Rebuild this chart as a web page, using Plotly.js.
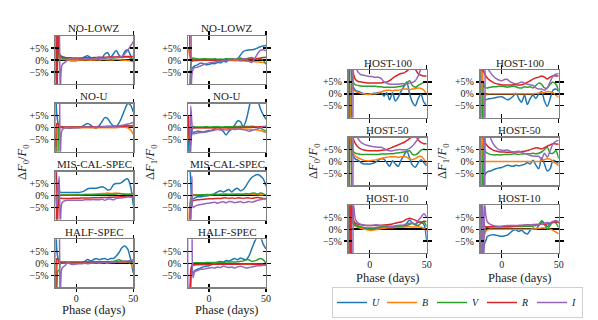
<!DOCTYPE html>
<html><head><meta charset="utf-8">
<script src="https://cdn.plot.ly/plotly-3.0.1.min.js"></script>
<style>html,body{margin:0;padding:0;background:#fff}#c{width:598px;height:320px}</style>
</head><body><div id="c"></div>
<script>
const phase = [-18,-17,-16,-15,-14,-12.5,-10,-7.5,-5,-2.5,0,2.5,5,7.5,10,12.5,15,17.5,20,22.5,25,27.5,30,32.5,35,37.5,40,42.5,45,47.5,50];
const bands = ['U','B','V','R','I'];
const yTickVals = [-5,0,5];
const yTickText = ['\u22125%','0%','+5%'];
const xTickVals = [0,50];
const xTickText = ['0','50'];
const panelTitles = ['NO-LOWZ','NO-LOWZ','NO-U','NO-U','MIS-CAL-SPEC','MIS-CAL-SPEC','HALF-SPEC','HALF-SPEC','HOST-100','HOST-100','HOST-50','HOST-50','HOST-10','HOST-10'];

// each panel: [U, B, V, R, I] in percent
const noLowzF0 = [
 [20,12,6,3,2,1.5,1.0,0.3,-0.2,-0.3,-0.3,0.2,0.6,1.4,1.8,1.0,0.3,0.6,1.3,0.8,2.5,3.0,1.0,2.5,4.0,2.0,1.4,3.5,4.3,2.0,-0.8],
 [-8,-3,2,1,0.5,0.3,0.2,0,-0.3,-0.3,-0.2,0,0,0.1,0,-0.1,0,0.1,0,0.2,0.2,0.1,0,0.1,0.3,0.2,0,-0.1,-0.2,-0.4,-0.8],
 [-25,-10,3,1.5,1,0.8,0.5,0.4,0.3,0.3,0.3,0.4,0.5,0.6,0.6,0.5,0.5,0.7,0.8,0.7,0.7,0.9,1.0,0.8,1.0,1.1,1.0,1.2,1.2,0.8,-0.2],
 [30,-30,25,3,1.5,1.2,1.0,0.9,0.9,0.8,0.8,0.8,0.8,0.9,0.9,0.9,1.0,1.0,1.0,1.1,1.1,1.2,1.2,1.3,1.3,1.4,1.4,1.5,1.5,1.5,1.5],
 [-20,30,30,20,-15,-2,-1,0,0.3,0.3,0.2,0.2,0.3,0.5,0.6,0.5,0.4,0.6,0.8,0.7,0.8,1.0,0.8,1.0,1.2,1.0,1.5,2.5,4.0,5.8,7.7]
];
const noLowzF1 = [
 [-30,-20,-6,-3.5,-3,-2.5,-2.0,-1.3,-1.5,-2.0,-1.8,-1.5,-1.5,-1.0,-1.2,-0.5,-0.8,0.2,0.5,0.2,0.5,2.0,3.5,4.0,4.2,4.3,4.5,5.0,5.5,5.8,6.0],
 [5,2,0.5,0,0,0,0,0,0,0,0,0,0,0,0,-0.1,-0.1,-0.2,-0.2,-0.3,-0.3,-0.4,-0.4,-0.5,-0.5,-0.6,-0.7,-0.8,-0.9,-1.0,-1.2],
 [-30,-20,-2,0.5,0.8,0.6,0.5,0.4,0.5,0.5,0.4,0.4,0.5,0.3,0.4,0.3,0.5,0.5,0.4,0.3,0.6,0.8,0.5,0.5,0.8,1.0,0.5,0.2,0.5,0.0,-1.8],
 [30,20,0,-0.5,-0.3,-0.2,-0.2,0,0,0,0,0,0,0,0,0,0,0.1,0.1,0.2,0.2,0.2,0.3,0.3,0.4,0.4,0.5,0.6,0.8,1.0,1.2],
 [30,30,-30,-6,-4,-3.2,-3.0,-2.5,-2.0,-1.5,-1.2,-1.0,-0.8,-0.5,-0.5,-0.3,-0.2,0,0.2,0.3,0.2,-0.2,0.5,0.3,-0.5,-1.0,0.5,2.5,4.0,4.3,3.8]
];
const noUF0 = [
 [15,5,2,0.5,0.3,0.2,0,-0.2,-0.2,0,0,0.2,0.5,1.2,1.8,1.2,0.1,-0.2,0.8,2.5,4.2,3.8,2.0,0.8,0.5,2.0,4.5,7.5,10.0,9.5,6.5],
 [-15,-3,1,0.3,0,0,0,0,0,0,0,0,0,0,0,0,0,0,0,0,0,0,0,0,0,0.1,0.2,0.2,0,-0.8,-2.7],
 [-5,-30,-10,0.5,0.5,0.3,0.2,0.2,0.3,0.3,0.2,0.3,0.3,0.3,0.4,0.4,0.4,0.4,0.5,0.5,0.5,0.5,0.5,0.6,0.6,0.6,0.7,0.7,0.8,0.8,0.9],
 [-8,1.8,1.5,0.3,0.2,0.3,0.3,0.3,0.3,0.3,0.3,0.3,0.3,0.3,0.3,0.4,0.4,0.4,0.4,0.4,0.4,0.5,0.5,0.5,0.5,0.6,0.6,0.6,0.7,0.7,0.8],
 [-20,30,30,25,-20,-1,0,0.2,0,0,0,0,0.2,0.3,0.2,0.1,0.2,0.3,0.3,0.3,0.4,0.5,0.5,0.6,0.7,0.8,1.0,1.2,1.5,1.8,2.2]
];
const noUF1 = [
 [5,-30,-8,-2.5,-2.0,-1.8,-1.5,-1.6,-1.8,-1.5,-1.2,-1.0,-0.5,0.5,-0.5,-1.5,-3.0,-1.5,-0.5,1.0,2.8,2.5,0.5,3.0,8.0,13,14,12,8.0,5.5,3.5],
 [-5,-2,0,0,0,0,0,0,0,0,0,0,0,0,0,0,-0.1,-0.2,-0.3,-0.3,-0.4,-0.4,-0.5,-0.5,-0.6,-0.7,-0.8,-1.0,-1.2,-1.6,-2.0],
 [-30,-20,-3,0.3,0.5,0.4,0.3,0.3,0.3,0.4,0.3,0.3,0.4,0.4,0.3,0.3,0.4,0.4,0.4,0.5,0.5,0.6,0.6,0.5,0.5,0.6,0.4,0.2,-0.2,-0.8,-1.5],
 [5,-7,-3,-0.5,-0.2,0,0,0,0,0,0,0,0,0,0,0,0,0,0,0.1,0.1,0.1,0.2,0.2,0.2,0.2,0.3,0.3,0.4,0.5,0.5],
 [-10,-30,9,2,-2.5,-2.5,-2.2,-2.0,-2.0,-1.8,-1.5,-1.3,-1.0,-0.8,-1.0,-0.8,-1.0,-0.8,-0.5,-0.8,-0.5,-0.6,-0.8,-1.0,-1.5,-1.2,-0.8,-0.5,0,0.3,0.5]
];
const misCalF0 = [
 [20,5,1.5,1.5,1.4,1.3,1.3,1.3,1.3,1.3,1.3,1.3,1.5,2.0,2.8,3.0,3.0,3.0,3.3,3.6,3.2,2.3,2.5,4.5,5.0,5.0,5.5,6.5,7.0,4.0,-4.0],
 [-20,-5,1,0.5,0.3,0.3,0.3,0.3,0.3,0.3,0.4,0.4,0.4,0.5,0.5,0.5,0.6,0.6,0.7,0.8,0.8,1.0,0.8,0.9,1.0,0.8,0.7,0.6,0.5,0.5,0.4],
 [-30,-10,-2,0,0.2,0.2,0.2,0.2,0.2,0.2,0.2,0.2,0.3,0.3,0.3,0.3,0.3,0.4,0.4,0.4,0.4,0.5,0.5,0.5,0.6,0.8,0.7,0.5,0.5,0.6,0.7],
 [30,-30,-5,-1.5,-1.2,-1.2,-1.2,-1.2,-1.2,-1.1,-1.1,-1.1,-1.0,-1.0,-1.0,-1.0,-0.9,-0.9,-0.9,-0.8,-0.8,-0.8,-0.7,-0.7,-0.6,-0.6,-0.5,-0.5,-0.4,-0.4,-0.4],
 [0,-5,2,8,-15,-3,-2.2,-2.0,-2.0,-2.0,-2.0,-2.0,-2.0,-1.8,-1.8,-1.8,-1.7,-1.8,-1.8,-1.5,-2.0,-1.5,-1.5,-1.8,-1.2,-1.0,-1.0,-0.8,-0.6,-0.6,-0.8]
];
const misCalF1 = [
 [30,20,5,-1,-1.5,-1.0,-0.5,-0.5,-0.3,-0.2,0,0.3,0.8,1.5,2.0,1.5,2.0,2.5,1.5,2.5,3.0,2.0,2.5,4.0,6.0,7.5,8.3,8.7,8.2,7.0,4.0],
 [-20,-5,-1,0,0.2,0.3,0.3,0.3,0.3,0.4,0.4,0.4,0.4,0.4,0.4,0.5,0.5,0.5,0.5,0.5,0.5,0.6,0.5,0.5,0.5,0.5,0.5,0.4,0.3,0.2,0.0],
 [-30,-15,-2,-0.5,0,0.2,0.2,0.3,0.3,0.3,0.3,0.4,0.5,0.4,0.5,0.5,0.5,0.4,0.5,0.5,0.6,0.5,0.5,0.8,0.6,0.9,1.0,0.6,1.0,0.8,0.0],
 [-30,-30,-8,-3,-2.2,-2.0,-1.8,-1.7,-1.6,-1.5,-1.4,-1.4,-1.3,-1.2,-1.2,-1.0,-1.0,-1.2,-1.0,-1.2,-1.0,-1.0,-1.2,-1.0,-1.0,-1.2,-1.0,-0.8,-1.0,-1.2,-1.2],
 [-30,-20,-10,8,-5,-4.5,-4.0,-3.8,-3.5,-3.3,-3.2,-3.0,-2.8,-3.2,-2.8,-2.6,-3.0,-2.5,-2.6,-3.0,-2.8,-2.5,-3.0,-2.8,-2.5,-2.8,-2.5,-2.0,-1.8,-1.5,-1.5]
];
const halfSpecF0 = [
 [20,5,2,0.5,0.3,0.2,0,0,0,0,0,0,0.2,0.8,1.6,1.0,1.5,2.0,1.5,1.8,2.0,1.5,2.0,2.0,3.0,4.5,6.5,7.2,6.0,2.0,-4.0],
 [-15,-3,1,0.5,0.3,0.3,0.3,0.2,0.2,0.2,0.2,0.2,0.2,0.2,0.2,0.3,0.3,0.3,0.3,0.3,0.3,0.3,0.3,0.3,0.4,0.4,0.4,0.5,0.5,0.0,-2.0],
 [-30,-10,-3,-3,0,0.3,0.3,0.3,0.3,0.3,0.3,0.3,0.3,0.3,0.4,0.4,0.5,0.5,0.5,0.6,0.6,0.5,0.7,0.8,1.2,1.5,1.0,0.7,0.5,0.5,0.5],
 [-10,2.0,1.5,0.5,0.5,0.5,0.5,0.5,0.5,0.5,0.5,0.5,0.5,0.5,0.5,0.5,0.5,0.5,0.5,0.5,0.5,0.5,0.5,0.5,0.6,0.6,0.6,0.7,0.7,0.8,0.8],
 [-20,30,30,20,-20,-2,-1.0,0.3,-0.3,-0.5,-0.3,-0.2,-0.2,0,-0.2,0,0,0.2,0,0.2,0.3,0,0.3,0.5,0.5,0.5,0.8,1.0,1.0,1.2,1.5]
];
const halfSpecF1 = [
 [-30,-20,-8,-5,-4,-3,-2.5,-2.0,-1.5,-1.2,-1.0,-0.5,0,0.5,0.8,0.5,1.2,1.0,1.5,2.0,1.5,2.2,1.8,1.5,3.0,6.0,9.0,11.0,11.0,8.0,6.0],
 [-10,-30,-8,-2,-1,-0.8,-0.6,-0.5,-0.5,-0.5,-0.5,-0.4,-0.4,-0.4,-0.4,-0.4,-0.4,-0.4,-0.4,-0.4,-0.4,-0.4,-0.4,-0.4,-0.4,-0.4,-0.4,-0.4,-0.5,-0.5,-0.6],
 [-30,-15,-5,-1,0,0.2,0.2,0.2,0.2,0.3,0.3,0.3,0.3,0.3,0.4,0.4,0.5,0.5,0.5,0.5,0.6,0.8,1.0,1.5,1.5,0.8,1.0,1.5,2.0,1.5,0.0],
 [-30,-30,-3,-1,-0.6,-0.5,-0.5,-0.5,-0.5,-0.5,-0.5,-0.4,-0.4,-0.4,-0.4,-0.4,-0.4,-0.4,-0.4,-0.4,-0.4,-0.3,-0.3,-0.3,-0.3,-0.3,-0.4,-0.4,-0.4,-0.4,-0.5],
 [-30,30,30,20,-6,-3.5,-3.0,-2.5,-2.5,-2.2,-2.0,-1.8,-2.0,-1.5,-1.8,-1.2,-1.5,-1.8,-1.5,-2.0,-1.5,-1.2,-1.5,-2.0,-1.8,-1.5,-1.2,-1.0,-1.0,-0.8,-0.8]
];
const host100F0 = [
 [30,20,8,3.5,2.5,1.5,1.0,0.5,0,-0.2,0,0.2,0.3,0.5,0.5,-1.0,0.5,-2.5,0.5,-3.0,-1.5,1.0,3.0,5.0,0,-3.5,-5.0,-2.0,-0.3,-3.5,-5.0],
 [-30,-20,5,2.0,1.5,1.0,0.5,0.2,0,-0.2,-0.2,0,0,0.3,0.8,1.2,1.5,1.5,1.3,1.5,1.5,1.8,2.0,2.0,1.8,2.0,2.2,2.5,2.3,1.5,-0.5],
 [-30,-30,10,6,4.5,3.8,3.5,3.3,3.2,3.2,3.2,3.2,3.2,3.0,3.0,2.8,2.8,2.8,2.8,2.8,3.0,3.2,3.5,4.5,5.5,3.5,2.8,3.5,4.2,4.8,5.0],
 [-30,30,25,12,8,6.0,5.2,5.0,4.8,4.6,4.6,4.6,4.6,4.6,4.6,4.8,5.0,5.5,6.5,7.3,8.0,8.5,8.8,9.5,10.5,10.8,10.2,8.5,7.8,7.5,7.5],
 [-20,30,30,-30,20,12,9,8.0,7.8,7.5,7.3,7.2,7.0,7.0,6.5,5.0,4.5,4.0,4.0,4.0,4.0,4.2,4.2,4.2,4.5,4.8,5.5,7.5,10.5,12,13]
];
const host100F1 = [
 [-30,-30,-8,-3.0,-2.5,-2.2,-2.0,-1.8,-1.5,-1.3,-1.2,-1.8,-2.5,-2.0,-1.0,0.3,-2.0,-3.5,-0.5,-4.5,-2.0,-0.5,-2.0,0.0,1.0,-3.0,-5.2,-2.0,1.5,2.0,1.0],
 [-10,30,-30,-2,-0.5,0,0,0,0,0,0,0,0,0,0,0,0,0,0,0,0,0,0.2,0.3,0.5,0.5,1.0,0.8,0.5,-0.5,-1.5],
 [-30,-20,5,3.0,2.5,2.5,2.8,3.0,3.0,3.2,3.2,3.0,2.8,3.0,3.2,3.0,2.5,2.5,3.0,2.8,3.0,2.5,3.5,4.5,4.0,2.5,2.5,4.0,5.0,4.0,1.5],
 [12,10,9.5,8.5,7.5,6.5,5.5,4.8,4.3,4.0,3.8,3.7,3.7,3.7,3.8,3.8,3.7,3.8,4.2,4.8,5.5,6.2,6.7,7.0,7.5,7.0,6.2,7.0,7.6,7.5,7.6],
 [-30,30,30,-30,15,11,9,7.5,6.5,5.8,5.5,6.0,6.0,5.0,4.5,4.2,4.5,5.0,4.5,4.0,3.8,3.5,2.5,2.0,2.0,1.5,2.5,5.0,7.5,8.2,8.5]
];
const host50F0 = [
 [30,20,6,3.0,2.0,1.0,0.5,-0.5,-1.0,-1.0,-1.0,-0.8,-0.3,0.5,1.2,1.0,-0.5,-2.0,0.3,-1.0,-2.0,0.5,2.5,4.5,1.5,-1.5,-2.4,-0.5,0.8,-0.5,-1.8],
 [-30,20,8,4.0,3.0,2.3,1.5,1.0,0.5,0.3,0.3,0.5,0.7,1.0,1.3,1.6,1.8,2.0,2.0,2.0,1.8,2.0,2.1,1.8,1.2,0.8,1.2,2.0,2.2,1.0,-1.2],
 [-30,-30,10,5.0,4.0,3.5,3.2,3.0,3.0,3.0,3.0,3.0,3.0,3.0,3.2,3.2,3.2,3.3,3.3,3.5,3.6,3.8,4.0,4.2,4.5,3.0,2.8,3.5,4.8,5.2,4.8],
 [-30,30,25,12,9,7.5,6.0,5.2,4.8,4.6,4.5,4.5,4.5,4.5,4.7,4.8,5.0,5.5,6.0,6.5,7.0,7.5,8.0,8.8,9.6,10.8,11,9.0,8.0,7.5,7.5],
 [-20,30,30,-30,20,13,9.5,8.0,7.3,6.8,6.5,6.3,6.2,6.0,6.0,5.5,4.8,4.5,4.5,4.8,5.0,5.0,5.0,5.0,5.5,6.5,8.0,9.5,11,12,12]
];
const host50F1 = [
 [-30,-30,-10,-6.0,-5.0,-4.3,-4.0,-3.5,-3.0,-2.7,-2.5,-2.0,-1.5,-1.8,-2.0,-1.5,-1.8,-1.5,-1.2,-0.5,-1.0,0.5,-1.5,-3.0,1.5,-1.0,-4.0,-3.0,0.5,0,-0.8],
 [-10,20,-5,-0.5,0,0,0,0,0,0,0,0,0,0,0,0,0,0,0,0,0,0,0,0,0.3,0.8,1.2,1.0,0,-0.8,-1.8],
 [-30,-20,8,5.0,4.0,3.5,3.0,2.8,2.8,2.8,2.8,3.0,3.0,3.0,3.2,3.2,3.0,3.2,3.3,3.3,3.3,3.5,3.3,3.5,4.0,5.0,6.0,3.5,3.5,4.5,1.2],
 [15,12,10,8.5,7.5,6.5,5.5,4.8,4.4,4.1,4.0,4.0,3.9,3.9,4.0,4.0,4.0,4.2,4.3,4.6,5.0,5.4,5.8,5.6,5.3,5.8,6.5,7.0,7.5,7.4,7.3],
 [-30,-30,30,-30,20,13,10,7.5,6.0,5.0,4.7,4.7,4.8,4.3,4.0,4.2,4.3,3.8,3.4,3.0,2.5,2.3,2.2,2.2,1.0,3.5,1.8,4.5,7.5,8.5,9.0]
];
const host10F0 = [
 [30,20,8,4.0,2.5,1.8,1.2,0.8,0.5,0.3,0.0,0.0,0.3,0.5,0.8,1.0,1.0,1.2,1.0,1.2,1.5,1.5,1.0,2.5,3.8,2.5,1.8,3.0,2.8,2.0,-5.0],
 [-30,20,6,2.5,1.8,1.2,0.8,0.3,0,-0.3,-0.5,-0.5,-0.3,0,0.2,0.4,0.5,0.6,0.6,0.7,0.8,0.8,0.9,1.0,1.0,0.9,0.9,1.0,0.8,0.3,-1.0],
 [-30,-30,5,2.8,2.2,1.6,1.2,0.9,0.7,0.5,0.5,0.5,0.6,0.8,0.9,1.0,1.0,1.0,1.0,1.1,1.2,1.3,1.5,1.5,2.0,2.5,1.8,1.5,2.5,3.0,1.0],
 [30,-30,20,6,3.5,2.5,2.0,1.8,1.6,1.5,1.5,1.5,1.5,1.5,1.6,1.7,1.8,2.0,2.2,2.5,2.8,3.0,3.5,4.2,4.6,4.2,3.8,3.0,3.0,3.3,3.2],
 [-20,30,30,-30,10,4.0,2.5,2.0,1.7,1.5,1.5,1.6,1.8,1.7,1.5,1.5,1.4,1.2,1.2,1.3,1.5,1.6,1.8,2.2,2.5,2.5,2.2,3.5,5.0,6.5,5.0]
];
const host10F1 = [
 [-30,-30,-10,-6.0,-5.0,-3.0,-2.5,-2.3,-2.5,-2.8,-3.0,-2.8,-2.5,-1.5,-0.5,-0.3,-1.0,-0.5,-1.5,-2.0,-0.5,0.5,0,1.5,3.5,2.5,1.0,2.5,3.0,3.5,2.5],
 [-10,-8,-5,-2.5,-1.0,-0.3,0,0,0,0,0,0,0,0,0,0,0,0,0,0,0,0,0.2,0.3,0.5,0.5,0.3,0.0,-0.5,-1.2,-2.0],
 [-30,10,-2,-1,0.5,0.8,1.0,1.0,1.0,1.0,1.0,1.0,1.0,1.0,1.1,1.1,1.1,1.1,1.2,1.2,1.2,1.3,1.5,2.0,3.0,2.0,0.0,1.5,3.2,2.5,0.8],
 [30,-30,5,1.2,1.0,1.0,1.0,1.0,1.0,1.0,1.0,1.0,1.0,1.1,1.2,1.3,1.4,1.5,1.6,1.8,1.8,1.9,2.0,2.0,2.2,2.0,2.2,2.5,2.8,3.0,2.8],
 [-30,30,-30,12,6,3.0,2.0,1.5,1.3,1.2,1.3,1.4,1.5,1.5,1.5,1.5,1.6,1.6,1.7,1.7,1.8,1.8,1.7,1.8,2.2,2.5,2.8,2.5,3.2,3.6,3.0]
];
const panels = [noLowzF0,noLowzF1,noUF0,noUF1,misCalF0,misCalF1,halfSpecF0,halfSpecF1,host100F0,host100F1,host50F0,host50F1,host10F0,host10F1];

// ---- styling / geometry ----
const W = 598, H = 320;
const colors = ['#1f77b4','#ff7f0e','#2ca02c','#d62728','#9467bd'];
const FONT = "'Liberation Serif', 'DejaVu Serif', serif";
const pw = 78;
function geom(i){
  if(i < 8){
    const col = i % 2, row = Math.floor(i/2);
    return {x0: [55.3,188][col], top: [36,103.7,171.5,239.3][row], h: 48, bottom: row===3};
  }
  const j = i - 8, col = j % 2, row = Math.floor(j/2);
  return {x0: [348.7,480.7][col], top: [70,137.7,205.3][row], h: 47.7, bottom: row===2};
}
const xRange = [-18.4, 50];
const yRange = [-10, 10];
const N = panels.length;

const traces = [];
const layout = {
  width: W, height: H, margin: {l:0,r:0,t:0,b:0, autoexpand:false},
  paper_bgcolor: '#fff', plot_bgcolor: '#fff',
  font: {family: FONT, color: '#222', size: 10},
  showlegend: true,
  legend: {orientation: 'h', x: 332/W, y: 2/H, xanchor: 'left', yanchor: 'bottom',
    bordercolor: '#d0d0d0', borderwidth: 1, font: {family: FONT, size: 10, color: '#222'},
    entrywidth: 5, entrywidthmode: 'pixels', itemwidth: 30, tracegroupgap: 0},
  annotations: []
};

for(let i=0;i<N;i++){
  const g = geom(i);
  const n = i+1, no = i+1+N;
  const xs = n===1?'':n, ys = n===1?'':n;
  const xd = [g.x0/W, (g.x0+pw)/W];
  const yd = [1-(g.top+g.h)/H, 1-g.top/H];
  const common = {showgrid:false, ticklen:3.5, tickwidth:1.3, tickcolor:'#000', tickfont:{family:FONT,size:10,color:'#222'}};
  layout['xaxis'+xs] = Object.assign({}, common, {domain:xd, anchor:'y'+ys, range:xRange, tickmode:'array', tickvals:xTickVals, ticktext:xTickText,
    showticklabels:g.bottom, ticklabelstandoff:-2, ticks:'outside', mirror:'ticks', showline:true, linecolor:'#808080', linewidth:1.3, zeroline:false, fixedrange:true});
  layout['yaxis'+ys] = Object.assign({}, common, {domain:yd, anchor:'x'+xs, range:yRange, tickmode:'array', tickvals:yTickVals, ticktext:yTickText,
    ticks:'outside', mirror:'ticks', showline:true, linecolor:'#808080', linewidth:1.3, zeroline:true, zerolinecolor:'#000', zerolinewidth:1.5, fixedrange:true});
  // overlay axes for the inner half of the crossing ticks
  layout['xaxis'+no] = Object.assign({}, common, {overlaying:'x'+xs, anchor:'y'+ys, range:xRange, tickmode:'array', tickvals:xTickVals,
    showticklabels:false, ticks:'inside', mirror:'ticks', showline:false, zeroline:false});
  layout['yaxis'+no] = Object.assign({}, common, {overlaying:'y'+ys, anchor:'x'+xs, range:yRange, tickmode:'array', tickvals:yTickVals,
    showticklabels:false, ticks:'inside', mirror:'ticks', showline:false, zeroline:false});
  traces.push({x:[], y:[], xaxis:'x'+no, yaxis:'y'+ys, type:'scatter', mode:'lines', showlegend:false, hoverinfo:'skip'});
  traces.push({x:[], y:[], xaxis:'x'+xs, yaxis:'y'+no, type:'scatter', mode:'lines', showlegend:false, hoverinfo:'skip'});

  for(let b=0;b<5;b++){
    traces.push({x: phase, y: panels[i][b], xaxis:'x'+xs, yaxis:'y'+ys, type:'scatter', mode:'lines',
      line:{color:colors[b], width:1.5, shape:'spline', smoothing:0.8},
      name:'<i>'+bands[b]+'</i>', legendgroup:bands[b], showlegend: i===0, hoverinfo:'skip'});
  }
  layout.annotations.push({text: panelTitles[i], xref:'paper', yref:'paper', x:(g.x0+pw/2)/W, y:1-(g.top+0.5)/H,
    xanchor:'center', yanchor:'bottom', showarrow:false, font:{family:FONT, size:11, color:'#222'}});
}
// axis labels
const yLab0 = '\u0394<i>F</i><sub>0</sub>/<i>F</i><sub>0</sub>';
const yLab1 = '\u0394<i>F</i><sub>1</sub>/<i>F</i><sub>0</sub>';
[[23,162,yLab0],[151,162,yLab1],[314,161,yLab0],[443,161,yLab1]].forEach(a=>{
  layout.annotations.push({text:a[2], xref:'paper', yref:'paper', x:a[0]/W, y:1-a[1]/H, xanchor:'center', yanchor:'middle',
    textangle:-90, showarrow:false, font:{family:FONT, size:12.5, color:'#222'}});
});
[[94.3,310],[227,310],[387.7,277.5],[519.7,277.5]].forEach(a=>{
  layout.annotations.push({text:'Phase (days)', xref:'paper', yref:'paper', x:a[0]/W, y:1-a[1]/H, xanchor:'center', yanchor:'middle',
    showarrow:false, font:{family:FONT, size:12.5, color:'#222'}});
});

Plotly.newPlot('c', traces, layout, {staticPlot:true, displayModeBar:false});
</script></body></html>
